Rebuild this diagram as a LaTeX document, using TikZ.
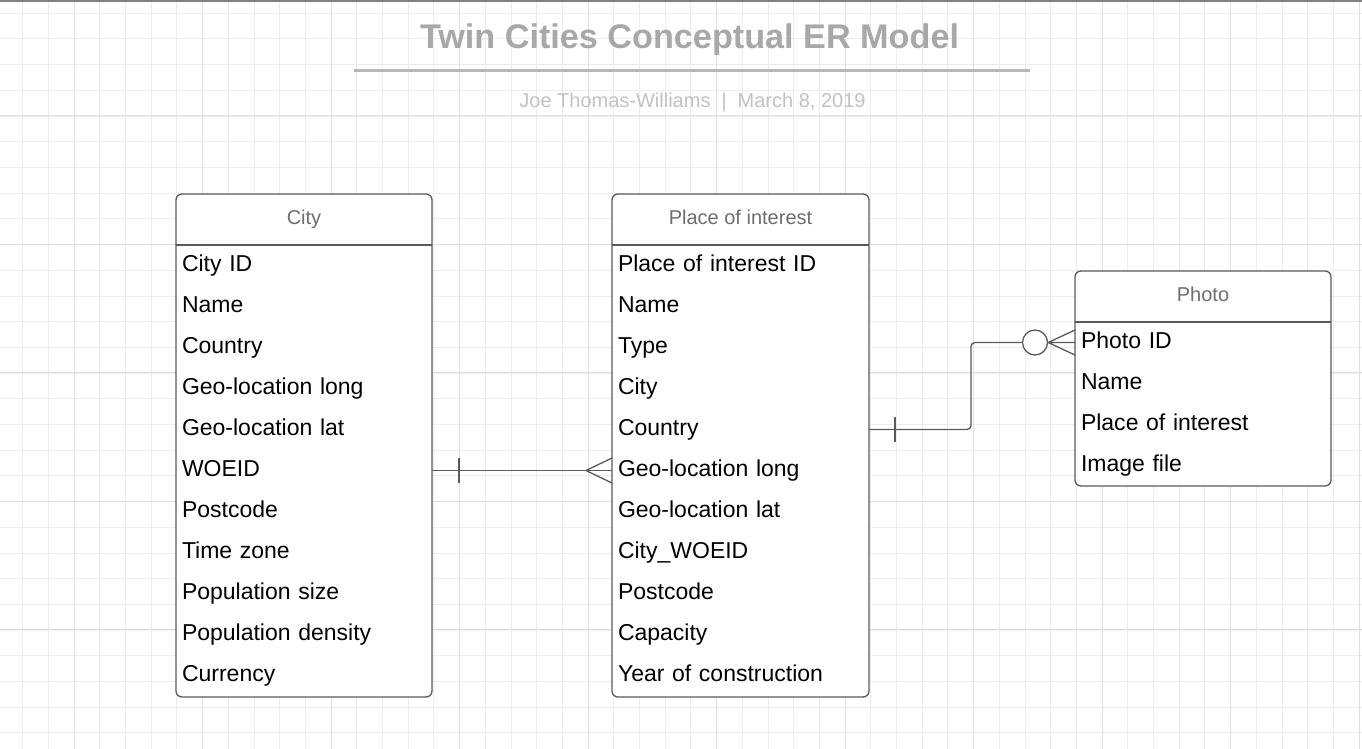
\documentclass[tikz,border=0pt]{standalone}
\usepackage{fontspec}
\setmainfont{Liberation Sans}
\usetikzlibrary{positioning}
\definecolor{gridminor}{HTML}{EDEDED}
\definecolor{gridmajor}{HTML}{E0E0E0}
\definecolor{edge}{HTML}{5A5A5A}
\definecolor{titlegray}{HTML}{A8A8A8}
\definecolor{rulegray}{HTML}{B8B8B8}
\definecolor{subgray}{HTML}{C2C2C2}
\definecolor{hdrgray}{HTML}{6E6E6E}
\tikzset{
 entity/.style={draw=edge,line width=1.3,rounded corners=6,fill=white,inner sep=0,outer sep=0},
 hdr/.style={inner sep=0,outer sep=0,minimum height=51,text=hdrgray,font=\fontsize{20}{24}\selectfont,text height=14,text depth=5},
 attr/.style={inner xsep=6,inner ysep=0,outer sep=0,minimum height=41,align=left,font=\fontsize{23}{27}\selectfont,text height=17,text depth=5},
 link/.style={draw=edge,line width=1.3},
}
\begin{document}
\begin{tikzpicture}[x=1pt,y=-1pt]
\useasboundingbox(0,0)rectangle(1362,749);
\fill[white](0,0)rectangle(1362,749);
% grid
\foreach \i in {0,...,52}{\draw[gridminor,line width=1]({22.7+25.7*\i},0)--++(0,749);}
\foreach \i in {0,...,28}{\draw[gridminor,line width=1](0,{13.3+25.7*\i})--++(1362,0);}
\foreach \i in {0,...,10}{\draw[gridmajor,line width=1]({74.3+128.5*\i},0)--++(0,749);}
\foreach \i in {0,...,4}{\draw[gridmajor,line width=1](0,{115.7+128.5*\i})--++(1362,0);}
\draw[line width=2,draw=gray](0,1)--(1362,1);
% title
\node[anchor=base,text=titlegray,font=\fontsize{34.2}{40}\selectfont\bfseries](title)at(689.5,48.5){Twin Cities Conceptual ER Model};
\draw[line width=3,draw=rulegray](354,71)--(1030,71);
\node[anchor=base,text=subgray,font=\fontsize{20}{24}\selectfont](byline)at(692.5,108){Joe Thomas-Williams\hspace{11pt}|\hspace{11pt}March 8, 2019};
% City
\node[entity,minimum width=256,minimum height=503](city)at(304,445.5){};
\node[hdr,minimum width=256,below=0pt of city.north](city-h){City};
\draw[link](city-h.south west)--(city-h.south east);
\foreach \t [count=\i,remember=\i as \j (initially h)] in {City ID,Name,Country,Geo-location long,Geo-location lat,WOEID,Postcode,Time zone,Population size,Population density,Currency}
 {\node[attr,text width=244,below=0pt of city-\j](city-\i){\t};}
% Place of interest
\node[entity,minimum width=257,minimum height=503](place)at(740.5,445.5){};
\node[hdr,minimum width=257,below=0pt of place.north](place-h){Place of interest};
\draw[link](place-h.south west)--(place-h.south east);
\foreach \t [count=\i,remember=\i as \j (initially h)] in {Place of interest ID,Name,Type,City,Country,Geo-location long,Geo-location lat,City\_WOEID,Postcode,Capacity,Year of construction}
 {\node[attr,text width=245,below=0pt of place-\j](place-\i){\t};}
% Photo
\node[entity,minimum width=256,minimum height=215](photo)at(1203,378.5){};
\node[hdr,minimum width=256,below=0pt of photo.north](photo-h){Photo};
\draw[link](photo-h.south west)--(photo-h.south east);
\foreach \t [count=\i,remember=\i as \j (initially h)] in {Photo ID,Name,Place of interest,Image file}
 {\node[attr,text width=244,below=0pt of photo-\j](photo-\i){\t};}
% City -- Place of interest
\draw[link](city-6.east)--(place-6.west);
\draw[link]([xshift=27]city-6.east)++(0,-12.5)--++(0,25);
\draw[link]([xshift=-26]place-6.west)--([yshift=12.5]place-6.west)([xshift=-26]place-6.west)--([yshift=-12.5]place-6.west);
% Place of interest -- Photo
\node[draw=edge,line width=1.3,circle,minimum size=25,inner sep=0,fill=white](opt)at([xshift=-40]photo-1.west){};
\draw[link,rounded corners=4](place-5.east)--++(102,0)|-(opt.west);
\draw[link]([xshift=26]place-5.east)++(0,-12.5)--++(0,25);
\draw[link](opt.east)--(photo-1.west)(opt.east)--([yshift=12.5]photo-1.west)(opt.east)--([yshift=-12.5]photo-1.west);
\end{tikzpicture}
\end{document}
